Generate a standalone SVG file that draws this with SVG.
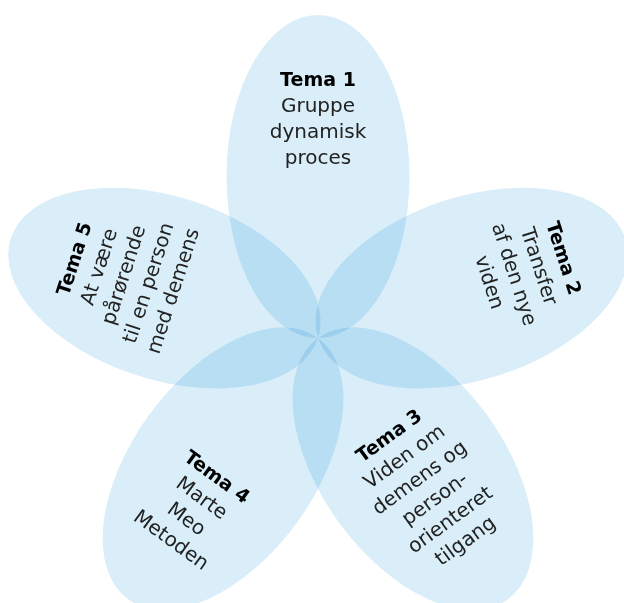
<svg xmlns="http://www.w3.org/2000/svg" width="624" height="603" viewBox="0 0 624 603">
<style>
.petal{fill:#d9eef9;mix-blend-mode:multiply}
.t{font-family:"DejaVu Sans","Liberation Sans",sans-serif;font-size:20px;fill:#222;text-anchor:middle}
.b{font-weight:bold;fill:#000;font-size:19px}
</style>
<rect width="624" height="603" fill="#fff"/>
<g id="petals-layer">
<g id="tema1" transform="translate(318,338)">
<ellipse class="petal" cx="0" cy="-161.5" rx="91.5" ry="161.5"/>
<text class="t"><tspan class="b" x="0" y="-252">Tema 1</tspan><tspan x="0" y="-226">Gruppe</tspan><tspan x="0" y="-200">dynamisk</tspan><tspan x="0" y="-174">proces</tspan></text>
</g>
<g id="tema2" transform="translate(318,338) rotate(72)">
<ellipse class="petal" cx="0" cy="-161.5" rx="91.5" ry="161.5"/>
<text class="t"><tspan class="b" x="0" y="-252">Tema 2</tspan><tspan x="0" y="-226">Transfer</tspan><tspan x="0" y="-200">af den nye</tspan><tspan x="0" y="-174">viden</tspan></text>
</g>
<g id="tema3" transform="translate(318,338) rotate(-36)">
<ellipse class="petal" cx="0" cy="161.5" rx="91.5" ry="161.5"/>
<text class="t"><tspan class="b" x="0" y="127">Tema 3</tspan><tspan x="0" y="153">Viden om</tspan><tspan x="0" y="179">demens og</tspan><tspan x="0" y="205">person-</tspan><tspan x="0" y="231">orienteret</tspan><tspan x="0" y="257">tilgang</tspan></text>
</g>
<g id="tema4" transform="translate(318,338) rotate(36)">
<ellipse class="petal" cx="0" cy="161.5" rx="91.5" ry="161.5"/>
<text class="t"><tspan class="b" x="0" y="178">Tema 4</tspan><tspan x="0" y="204">Marte</tspan><tspan x="0" y="230">Meo</tspan><tspan x="0" y="256">Metoden</tspan></text>
</g>
<g id="tema5" transform="translate(318,338) rotate(-72)">
<ellipse class="petal" cx="0" cy="-161.5" rx="91.5" ry="161.5"/>
<text class="t"><tspan class="b" x="0" y="-250">Tema 5</tspan><tspan x="0" y="-224">At være</tspan><tspan x="0" y="-198">pårørende</tspan><tspan x="0" y="-172">til en person</tspan><tspan x="0" y="-146">med demens</tspan></text>
</g>
</g>
</svg>
